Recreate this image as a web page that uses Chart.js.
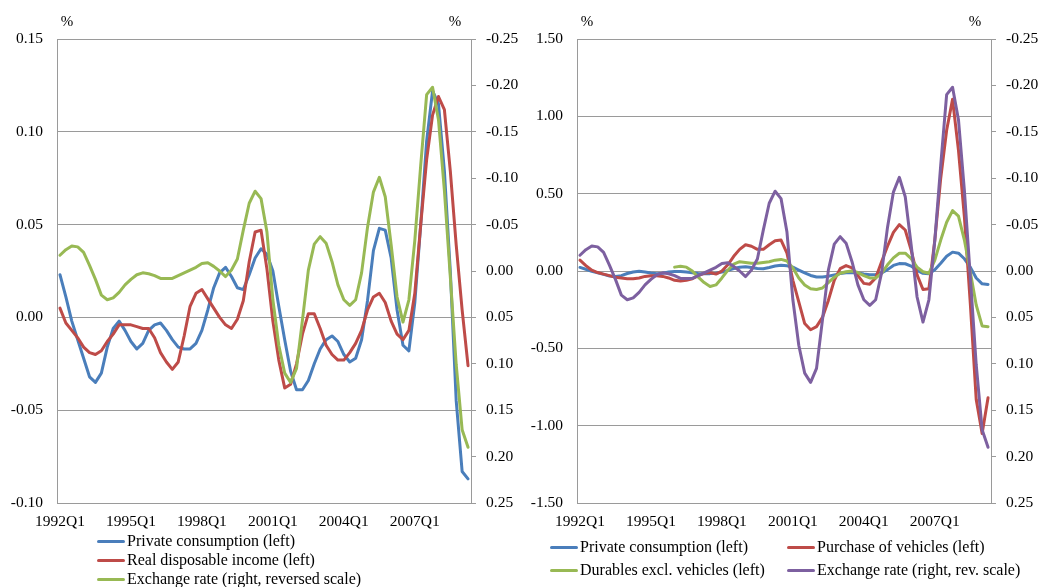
<!DOCTYPE html>
<html>
<head>
<meta charset="utf-8">
<script src="https://cdn.jsdelivr.net/npm/chart.js@4/dist/chart.umd.min.js"></script>
<style>
  html, body { margin: 0; padding: 0; background: #ffffff; }
  body { width: 1040px; height: 587px; position: relative; overflow: hidden;
         font-family: 'Liberation Serif', 'Times New Roman', serif; color: #000; }
  .panel { position: absolute; top: 0; width: 520px; height: 587px; }
  .panel canvas { position: absolute; left: 0; top: 0; }
  .leg { position: absolute; height: 18px; line-height: 18px; font-size: 16px; white-space: nowrap; }
  .leg .sw { position: absolute; top: 7.5px; width: 28px; height: 3px; border-radius: 1.5px; }
  .leg .tx { position: absolute; top: 0; }
</style>
</head>
<body>
<div class="panel" id="panelA" style="left:0"><canvas id="chartA" width="520" height="587"></canvas></div>
<div class="panel" id="panelB" style="left:520px"><canvas id="chartB" width="520" height="587"></canvas></div>

<script>
// Quarterly categories, 1992Q1 .. 2009Q2
const quarters = [];
for (let y = 1992; y <= 2009; y++) {
  for (let q = 1; q <= 4; q++) {
    if (y === 2009 && q > 2) break;
    quarters.push(y + 'Q' + q);
  }
}

// Category labels printed on the x axis
const shownQuarterLabels = ['1992Q1', '1995Q1', '1998Q1', '2001Q1', '2004Q1', '2007Q1'];

// Private consumption, % (left axis, both panels)
const privateConsumption = [
  0.023, 0.011, -0.002, -0.012, -0.022, -0.032, -0.035, -0.030, -0.016, -0.006,
  -0.002, -0.007, -0.013, -0.017, -0.014, -0.007, -0.004, -0.003, -0.007, -0.012,
  -0.016, -0.017, -0.017, -0.014, -0.007, 0.004, 0.016, 0.024, 0.027, 0.022,
  0.016, 0.015, 0.023, 0.032, 0.037, 0.034, 0.025, 0.006, -0.012, -0.029,
  -0.039, -0.039, -0.034, -0.025, -0.017, -0.012, -0.010, -0.013, -0.020, -0.024,
  -0.022, -0.012, 0.009, 0.036, 0.048, 0.047, 0.032, 0.004, -0.015, -0.018,
  0.008, 0.050, 0.095, 0.122, 0.115, 0.079, 0.025, -0.045, -0.083, -0.087
];

// Real disposable income, % (left axis)
const realDisposableIncome = [
  0.005, -0.003, -0.007, -0.011, -0.016, -0.019, -0.020, -0.018, -0.013, -0.009,
  -0.004, -0.004, -0.004, -0.005, -0.006, -0.006, -0.011, -0.019, -0.024, -0.028,
  -0.024, -0.010, 0.006, 0.013, 0.015, 0.010, 0.005, 0.000, -0.004, -0.006,
  -0.001, 0.009, 0.030, 0.046, 0.047, 0.026, -0.002, -0.023, -0.038, -0.036,
  -0.025, -0.009, 0.002, 0.002, -0.006, -0.015, -0.020, -0.023, -0.023, -0.019,
  -0.014, -0.007, 0.004, 0.011, 0.013, 0.008, -0.002, -0.009, -0.012, -0.007,
  0.013, 0.050, 0.085, 0.109, 0.119, 0.112, 0.079, 0.039, 0.004, -0.026
];

// Exchange rate, % (right axis, reversed scale, both panels)
const exchangeRate = [
  -0.017, -0.023, -0.027, -0.026, -0.020, -0.006, 0.009, 0.026, 0.031, 0.029,
  0.023, 0.015, 0.009, 0.004, 0.002, 0.003, 0.005, 0.008, 0.008, 0.008,
  0.005, 0.002, -0.001, -0.004, -0.008, -0.009, -0.005, 0.000, 0.006, -0.001,
  -0.013, -0.044, -0.073, -0.086, -0.078, -0.042, 0.031, 0.080, 0.110, 0.120,
  0.105, 0.053, -0.001, -0.029, -0.037, -0.030, -0.010, 0.015, 0.031, 0.037,
  0.031, 0.002, -0.047, -0.085, -0.101, -0.080, -0.028, 0.028, 0.055, 0.031,
  -0.033, -0.114, -0.190, -0.198, -0.163, -0.087, 0.006, 0.101, 0.171, 0.190
];

// Purchase of vehicles, % (left axis, second panel)
const vehiclePurchases = [
  0.070, 0.035, 0.005, -0.010, -0.020, -0.030, -0.040, -0.045, -0.050, -0.050,
  -0.045, -0.035, -0.030, -0.030, -0.035, -0.045, -0.060, -0.065, -0.060, -0.050,
  -0.030, -0.015, -0.010, -0.020, 0.000, 0.040, 0.095, 0.140, 0.170, 0.160,
  0.140, 0.140, 0.170, 0.195, 0.200, 0.115, -0.060, -0.200, -0.340, -0.380,
  -0.360, -0.300, -0.190, -0.060, 0.015, 0.035, 0.020, -0.030, -0.080, -0.085,
  -0.045, 0.060, 0.160, 0.250, 0.300, 0.265, 0.135, -0.025, -0.120, -0.115,
  0.200, 0.600, 0.910, 1.110, 0.780, 0.350, -0.210, -0.830, -1.050, -0.820
];

// Durables excluding vehicles, % (left axis, second panel; series begins 1996Q1)
const durablesExVehicles = [
  null, null, null, null, null, null, null, null, null, null,
  null, null, null, null, null, null, 0.025, 0.030, 0.025, 0.000,
  -0.040, -0.075, -0.100, -0.090, -0.045, 0.005, 0.045, 0.060, 0.055, 0.050,
  0.050, 0.055, 0.060, 0.070, 0.075, 0.065, 0.020, -0.045, -0.090, -0.115,
  -0.120, -0.110, -0.075, -0.040, -0.015, -0.005, 0.000, -0.010, -0.030, -0.045,
  -0.045, -0.015, 0.040, 0.085, 0.115, 0.115, 0.080, 0.025, -0.005, -0.015,
  0.070, 0.200, 0.315, 0.390, 0.355, 0.200, -0.005, -0.220, -0.355, -0.360
];

const COLORS = { blue: '#4a7ebb', red: '#be4b48', green: '#98b954', purple: '#7d60a0' };
const AXIS_GREY = '#9a9a9a';
const FONT_FAMILY = "'Liberation Serif', 'Times New Roman', serif";

Chart.defaults.font.family = FONT_FAMILY;
Chart.defaults.font.size = 15.5;
Chart.defaults.color = '#000000';

function fmt2(v) {
  if (Math.abs(v) < 1e-9) return '0.00';
  return v.toFixed(2);
}

function lineSet(label, data, color, axis, order) {
  return {
    label, data, yAxisID: axis, order,
    borderColor: color, backgroundColor: color,
    borderWidth: 3, pointRadius: 0, pointHoverRadius: 0,
    tension: 0, borderJoinStyle: 'round', borderCapStyle: 'round',
    spanGaps: false, fill: false
  };
}

// "%" unit markers above both value axes
const unitMarks = {
  id: 'unitMarks',
  afterDraw(chart) {
    const { ctx, chartArea } = chart;
    ctx.save();
    ctx.font = '15px ' + FONT_FAMILY;
    ctx.fillStyle = '#000';
    ctx.textAlign = 'center';
    ctx.textBaseline = 'middle';
    ctx.fillText('%', chartArea.left + 10, 22);
    ctx.fillText('%', chartArea.right - 16, 22);
    ctx.restore();
  }
};

function makeOptions(leftMin, leftMax, leftStep) {
  return {
    responsive: false,
    animation: false,
    events: [],
    layout: { padding: { top: 39, left: 0, right: 0, bottom: 0 } },
    plugins: { legend: { display: false }, tooltip: { enabled: false } },
    scales: {
      x: {
        type: 'category',
        offset: true,
        grid: { display: false, drawTicks: false },
        border: { display: true, color: AXIS_GREY, width: 1 },
        ticks: {
          autoSkip: false, maxRotation: 0, minRotation: 0, padding: 10,
          callback: function (val) {
            const lab = this.getLabelForValue(val);
            return shownQuarterLabels.includes(lab) ? lab : '';
          }
        },
        afterFit: s => { s.height = 84; }
      },
      yL: {
        position: 'left',
        min: leftMin, max: leftMax,
        grid: { color: AXIS_GREY, lineWidth: 1, drawTicks: false },
        border: { display: true, color: AXIS_GREY, width: 1 },
        ticks: { stepSize: leftStep, padding: 14, callback: v => fmt2(v) },
        afterFit: s => { s.width = 57; }
      },
      yR: {
        position: 'right',
        reverse: true,
        min: -0.25, max: 0.25,
        grid: { drawOnChartArea: false, drawTicks: true, tickLength: 5, color: AXIS_GREY },
        border: { display: true, color: AXIS_GREY, width: 1 },
        ticks: { stepSize: 0.05, padding: 10, callback: v => fmt2(v) },
        afterFit: s => { s.width = 49; }
      }
    }
  };
}

const chartA = new Chart(document.getElementById('chartA'), {
  type: 'line',
  data: {
    labels: quarters,
    datasets: [
      lineSet('Private consumption (left)', privateConsumption, COLORS.blue, 'yL', 3),
      lineSet('Real disposable income (left)', realDisposableIncome, COLORS.red, 'yL', 2),
      lineSet('Exchange rate (right, reversed scale)', exchangeRate, COLORS.green, 'yR', 1)
    ]
  },
  options: makeOptions(-0.10, 0.15, 0.05),
  plugins: [unitMarks]
});

const chartB = new Chart(document.getElementById('chartB'), {
  type: 'line',
  data: {
    labels: quarters,
    datasets: [
      lineSet('Private consumption (left)', privateConsumption, COLORS.blue, 'yL', 4),
      lineSet('Purchase of vehicles (left)', vehiclePurchases, COLORS.red, 'yL', 3),
      lineSet('Durables excl. vehicles (left)', durablesExVehicles, COLORS.green, 'yL', 2),
      lineSet('Exchange rate (right, rev. scale)', exchangeRate, COLORS.purple, 'yR', 1)
    ]
  },
  options: makeOptions(-1.5, 1.5, 0.5),
  plugins: [unitMarks]
});

// Legends built from each chart's datasets
function addLegend(panelId, chart, slots) {
  const panel = document.getElementById(panelId);
  chart.data.datasets.forEach((ds, i) => {
    const s = slots[i];
    const item = document.createElement('div');
    item.className = 'leg';
    item.style.left = s.x + 'px';
    item.style.top = (s.cy - 9) + 'px';
    const sw = document.createElement('span');
    sw.className = 'sw';
    sw.style.left = '0px';
    sw.style.background = ds.borderColor;
    const tx = document.createElement('span');
    tx.className = 'tx';
    tx.style.left = '30px';
    tx.textContent = ds.label;
    item.appendChild(sw);
    item.appendChild(tx);
    panel.appendChild(item);
  });
}

addLegend('panelA', chartA, [
  { x: 97, cy: 541 }, { x: 97, cy: 560 }, { x: 97, cy: 579 }
]);
addLegend('panelB', chartB, [
  { x: 30, cy: 547 }, { x: 267, cy: 547 }, { x: 30, cy: 570 }, { x: 267, cy: 570 }
]);
</script>
</body>
</html>
